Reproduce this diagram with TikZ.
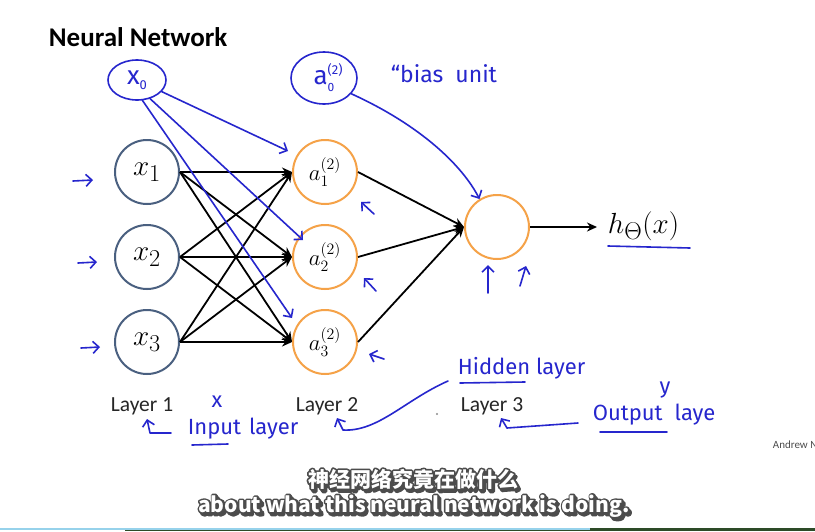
\documentclass[tikz,border=0pt]{standalone}
\usepackage{fontspec}
\usepackage{amsmath}
\usetikzlibrary{arrows.meta,shapes.geometric,calc}

\newfontfamily\slidefont{Carlito}
\newfontfamily\handfont{Fira Sans}
\newfontfamily\cjkfont{Noto Sans CJK SC}

\definecolor{inpline}{RGB}{74,96,128}
\definecolor{hidline}{RGB}{245,162,72}
\definecolor{penblue}{RGB}{38,38,205}
\definecolor{barblue}{RGB}{150,210,235}
\definecolor{bargreen}{RGB}{45,75,40}

% big math
\newcommand{\bigmath}[1]{\scalebox{1.17}{\fontsize{24.88}{30}\selectfont$#1$}}
\newcommand{\midmath}[1]{\scalebox{1.1}{\fontsize{20.74}{25}\selectfont$#1$}}

% outlined text (fill and stroke)
\newcommand{\stroked}[1]{\special{pdf:literal direct 2 Tr 3.4 w 1 j}#1\special{pdf:literal direct 0 Tr}}

% subtitle with dark outline and shadow
\newcommand{\subtitleline}[3]{%
  \node[subshade] at ($(#2)+(2,2.5)$) {\stroked{#3}};
  \node[subshade] at (#2) {\stroked{#3}};
  \node[subtext] (#1) at (#2) {#3};}

\begin{document}
\begin{tikzpicture}[x=1pt,y=-1pt,line width=1.8pt,
  title/.style={font=\slidefont\bfseries\fontsize{27}{31}\selectfont,anchor=base west,inner sep=0pt},
  inp/.style={circle,draw=inpline,line width=2pt,minimum size=64pt,inner sep=0pt},
  hid/.style={circle,draw=hidline,line width=2pt,minimum size=64pt,inner sep=0pt},
  conn/.style={-{Stealth[length=10pt,width=9pt]},line width=1.8pt},
  ink/.style={penblue,line width=1.6pt,line cap=round,line join=round},
  inkarrow/.style={ink,-{Straight Barb[length=6pt,width=12pt]}},
  hand/.style={text=penblue,font=\handfont\fontsize{22}{26}\selectfont,inner sep=0pt},
  handoval/.style={ellipse,draw=penblue,line width=1.6pt,inner sep=0pt,text=penblue,font=\handfont\fontsize{26}{28}\selectfont},
  layerlbl/.style={font=\slidefont\fontsize{21.5}{26}\selectfont,text=black!85,anchor=base,inner sep=0pt},
  subshade/.style={font=\cjkfont\bfseries\fontsize{21}{25}\selectfont,text=black!70,inner sep=0pt},
  subtext/.style={font=\cjkfont\bfseries\fontsize{21}{25}\selectfont,text=white,inner sep=0pt}]
\useasboundingbox (0,0) rectangle (815,531);
\fill[white] (0,0) rectangle (815,531);

\node[title] (ttl) at (48,46) {Neural Network};

% layers
\node[inp] (x1) at (147,172) {\bigmath{x_1}};
\node[inp] (x2) at (147,257) {\bigmath{x_2}};
\node[inp] (x3) at (147,342) {\bigmath{x_3}};
\node[hid] (a1) at (325,172) {\midmath{a_1^{(2)}}};
\node[hid] (a2) at (325,257) {\midmath{a_2^{(2)}}};
\node[hid] (a3) at (325,342) {\midmath{a_3^{(2)}}};
\node[hid] (out) at (497,227) {};
\node[inner xsep=10pt,inner ysep=0pt,anchor=base west] (h) at (597,233) {\bigmath{h_\Theta(x)}};

\foreach \i in {1,2,3}
  \foreach \j in {1,2,3}
    \draw[conn] (x\i.east) -- (a\j.west);
\foreach \j in {1,2,3}
  \draw[conn] (a\j.east) -- (out.west);
\draw[conn] (out.east) -- (out.east -| h.west);

\node[layerlbl] (l1) at (142,411) {Layer 1};
\node[layerlbl] (l2) at (327,411) {Layer 2};
\node[layerlbl] (l3) at (492,411) {Layer 3};

% blue notes
\node[handoval,minimum width=58pt,minimum height=40pt] (x0) at (137,80)
  {x\raisebox{-5pt}{\fontsize{13}{13}\selectfont 0}};
\node[handoval,minimum width=66pt,minimum height=52pt] (a0) at (324,78)
  {a\rlap{\raisebox{10pt}{\fontsize{13}{13}\selectfont(2)}}\raisebox{-7pt}{\fontsize{12}{12}\selectfont 0}};
\node[hand,anchor=base west,font=\handfont\fontsize{23}{26}\selectfont] (bias) at (390,82) {“bias\hspace{12pt}unit};

\coordinate (b1) at (288,151);
\coordinate (b2) at (303,240);
\coordinate (b3) at (292,318);
\draw[inkarrow] (x0) -- (b1);
\draw[inkarrow] (x0.-55) -- (b2);
\draw[inkarrow] (x0.-75) -- (b3);
\draw[inkarrow] (a0.-30) .. controls (420,125) and (462,165) .. (out.122);

\draw[inkarrow] (73,181) -- (93,180);
\draw[inkarrow] (78,263) -- (97,262);
\draw[inkarrow] (81,348) -- (100,347);
\draw[inkarrow] (374,214) -- (361,202);
\draw[inkarrow] (376,291) -- (364,278);
\draw[inkarrow] (384,359) -- (369,354);
\draw[inkarrow] (488,293) -- (488,265);
\draw[inkarrow] (520,286) -- (526,266);

\draw[ink] (608,246) -- (690,248);

\node[hand] (xin) at (217,402) {x};
\node[hand] (yout) at (665,390) {y};
\node[hand,anchor=base west] (inl) at (187,434) {Input\hspace{8pt}layer};
\node[hand,anchor=base west] (hdl) at (457,374) {Hidden layer};
\node[hand,anchor=base west] (otl) at (592,420) {Output\hspace{12pt}laye};
\draw[ink] (192,445) -- (228,444);
\draw[ink] (460,383) -- (525,382);
\draw[ink] (600,432) -- (667,432);

\draw[inkarrow] (171,433) -- (150,433) -- (147,419);
\draw[inkarrow] (448,381) .. controls (405,400) and (378,432) .. (343,430) -- (337,418);
\draw[inkarrow] (578,423) -- (507,428) -- (501,418);
\fill[black!45] (437,414) circle (1.2);

\node[font=\slidefont\fontsize{11}{13}\selectfont,text=black!70,anchor=base west,inner sep=0pt] (auth) at (772,448) {Andrew Ng};

% subtitles
\subtitleline{subzh}{413,479}{神经网络究竟在做什么}
\subtitleline{suben}{414,506}{about what this neural network is doing.}

% bottom strip
\fill[barblue] (0,528) rectangle (590,530);
\fill[bargreen] (590,528) rectangle (815,531);
\fill[bargreen] (125,530) rectangle (590,531);
\end{tikzpicture}
\end{document}
